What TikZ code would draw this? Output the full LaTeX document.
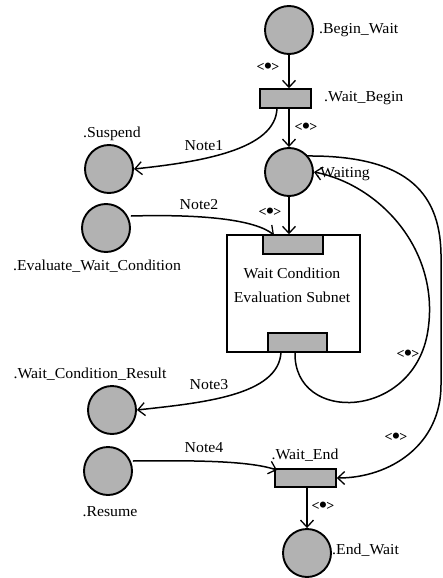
\documentclass[tikz,border=0pt]{standalone}
\usepackage{fontspec}
\setmainfont{Liberation Serif}
\usetikzlibrary{arrows.meta}
\newcommand{\tokmark}{<\kern-0.5pt\raisebox{-0.28ex}{\scalebox{1.6}{•}}\kern-0.5pt>}
\begin{document}
\begin{tikzpicture}[x=1pt,y=-1pt,
  place/.style={circle,draw,line width=1.9pt,fill=gray!60,minimum size=48pt,inner sep=0pt},
  trans/.style={rectangle,draw,line width=1.5pt,fill=gray!60,inner sep=0pt},
  lbl/.style={font=\fontsize{15.2}{17}\selectfont,inner sep=0pt,xscale=1.04},
  tok/.style={font=\fontsize{14}{15}\selectfont\bfseries,inner sep=0pt},
  arc/.style={line width=1.5pt,-{Straight Barb[length=7pt,width=13pt,line width=1.3pt]}}]
\useasboundingbox (0,0) rectangle (443,578);
% places
\node[place] (BW) at (289,30) {};
\node[place] (WT) at (289,172) {};
\node[place] (SU) at (109,169) {};
\node[place] (EV) at (106,228) {};
\node[place] (WR) at (112,410) {};
\node[place] (RE) at (108,471) {};
\node[place] (EW) at (307,553) {};
% subnet
\node[draw,line width=1.6pt,minimum width=133pt,minimum height=117pt,inner sep=0pt] (SUB) at (293.5,293.5) {};
\node[lbl,align=center] (SUBT) at (292,285) {Wait Condition\\[7pt]Evaluation Subnet};
% transitions
\node[trans,minimum width=51pt,minimum height=19pt] (WB) at (285.5,98.5) {};
\node[trans,minimum width=60pt,minimum height=19pt] (ST) at (293,244.5) {};
\node[trans,minimum width=59pt,minimum height=19pt] (SB) at (297.5,342.5) {};
\node[trans,minimum width=61pt,minimum height=18pt] (WE) at (305.5,478) {};
% labels
\node[lbl,anchor=west] (lBW) at (319,30) {.Begin\_Wait};
\node[lbl,anchor=west] (lWB) at (324,98) {.Wait\_Begin};
\node[lbl,anchor=west] (lWT) at (316,174) {.Waiting};
\node[lbl] (lSU) at (112,134) {.Suspend};
\node[lbl] (lEV) at (97,266) {.Evaluate\_Wait\_Condition};
\node[lbl] (lWR) at (90,374) {.Wait\_Condition\_Result};
\node[lbl] (lRE) at (110,512) {.Resume};
\node[lbl] (lWE) at (305,455) {.Wait\_End};
\node[lbl,anchor=west] (lEW) at (332,550) {.End\_Wait};
\node[lbl] (n1) at (204,146) {Note1};
\node[lbl] (n2) at (199,205) {Note2};
\node[lbl] (n3) at (209,385) {Note3};
\node[lbl] (n4) at (204,448) {Note4};
% tokens
\node[tok] (t1) at (268,68) {\tokmark};
\node[tok] (t2) at (306,128) {\tokmark};
\node[tok] (t3) at (270,213) {\tokmark};
\node[tok] (t4) at (408,355) {\tokmark};
\node[tok] (t5) at (396,438) {\tokmark};
\node[tok] (t6) at (323,507) {\tokmark};
% connectors
\draw[arc] (BW.south) -- (BW.south |- WB.north);
\draw[arc] (WT.north |- WB.south) -- (WT.north);
\draw[arc] (WT.south) -- (WT.south |- ST.north);
\draw[arc] (EW.north |- WE.south) -- (EW.north);
\coordinate (wbl) at (277,108);
\draw[arc] (wbl) .. controls (276,150) and (200,162) .. (SU.east);
\coordinate (stl) at (274,235);
\draw[arc] (EV.east) ++(0,-12) .. controls (205,214) and (255,220) .. (stl);
\coordinate (sbl) at (281,352);
\draw[arc] (sbl) .. controls (279,396) and (200,403) .. (WR.east);
\coordinate (wel) at (277,470);
\draw[arc] (RE.east) ++(0,-10) .. controls (210,460) and (252,462) .. (wel);
\coordinate (sbr) at (295,352);
\draw[arc] (sbr) .. controls (293,425) and (415,420) .. (428,330)
  .. controls (440,250) and (380,185) .. (WT.east);
\coordinate (wtr) at (306,156);
\draw[arc] (wtr) .. controls (410,155) and (442,195) .. (441,260)
  -- (441,385) .. controls (441,445) and (390,478) .. (WE.east);
\end{tikzpicture}
\end{document}
